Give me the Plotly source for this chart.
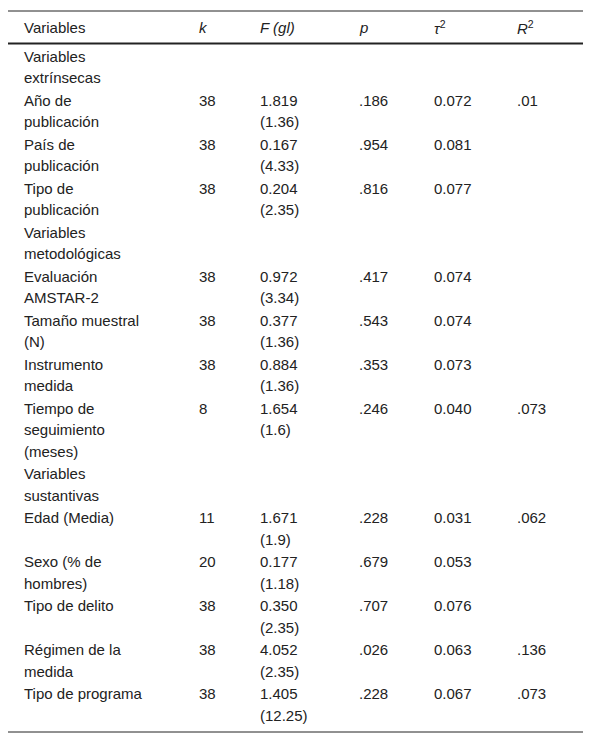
import plotly.graph_objects as go

headers = ["Variables", "<i>k</i>", "<i>F (gl)</i>", "<i>p</i>", "<i>τ</i><sup>2</sup>", "<i>R</i><sup>2</sup>"]
variables = ["Variables<br>extrínsecas", "Año de<br>publicación", "País de<br>publicación", "Tipo de<br>publicación",
             "Variables<br>metodológicas", "Evaluación<br>AMSTAR-2", "Tamaño muestral<br>(N)", "Instrumento<br>medida",
             "Tiempo de<br>seguimiento<br>(meses)", "Variables<br>sustantivas", "Edad (Media)", "Sexo (% de<br>hombres)",
             "Tipo de delito", "Régimen de la<br>medida", "Tipo de programa"]
k_vals = ["", "38", "38", "38", "", "38", "38", "38", "8", "", "11", "20", "38", "38", "38"]
f_vals = ["", "1.819<br>(1.36)", "0.167<br>(4.33)", "0.204<br>(2.35)", "", "0.972<br>(3.34)", "0.377<br>(1.36)",
          "0.884<br>(1.36)", "1.654<br>(1.6)", "", "1.671<br>(1.9)", "0.177<br>(1.18)", "0.350<br>(2.35)",
          "4.052<br>(2.35)", "1.405<br>(12.25)"]
p_vals = ["", ".186", ".954", ".816", "", ".417", ".543", ".353", ".246", "", ".228", ".679", ".707", ".026", ".228"]
tau_vals = ["", "0.072", "0.081", "0.077", "", "0.074", "0.074", "0.073", "0.040", "", "0.031", "0.053", "0.076", "0.063", "0.067"]
r_vals = ["", ".01", "", "", "", "", "", "", ".073", "", ".062", "", "", ".136", ".073"]

col_x = [22, 197, 258, 357, 432, 515]
W, H = 592, 743
OFF = 8  # default page body margin
LINE = 21.5
FONT = dict(family="Liberation Sans, Arial", size=15, color="#222")

fig = go.Figure()
ann = []
for x, h in zip(col_x, headers):
    ann.append(dict(x=x, y=27, text=h, xanchor="left", yanchor="middle", showarrow=False, font=FONT))

y = 56
columns = [variables, k_vals, f_vals, p_vals, tau_vals, r_vals]
for i in range(len(variables)):
    n = max(c[i].count("<br>") + 1 for c in columns)
    for x, col in zip(col_x, columns):
        if col[i]:
            for j, part in enumerate(col[i].split("<br>")):
                ann.append(dict(x=x, y=y + j * LINE, text=part, xanchor="left", yanchor="middle",
                                showarrow=False, font=FONT))
    y += LINE * n + 1

shapes = [
    dict(type="line", x0=8, x1=583, y0=11, y1=11, line=dict(color="#222", width=1)),
    dict(type="line", x0=8, x1=583, y0=43.5, y1=43.5, line=dict(color="#222", width=2)),
    dict(type="line", x0=8, x1=583, y0=732, y1=732, line=dict(color="#222", width=1)),
]
fig.update_layout(width=W - 2 * OFF, height=H - 2 * OFF, margin=dict(l=0, r=0, t=0, b=0),
                  paper_bgcolor="white", plot_bgcolor="white",
                  xaxis=dict(range=[OFF, W - OFF], visible=False, fixedrange=True),
                  yaxis=dict(range=[H - OFF, OFF], visible=False, fixedrange=True),
                  annotations=ann, shapes=shapes, showlegend=False)
fig.write_html("out.html")
